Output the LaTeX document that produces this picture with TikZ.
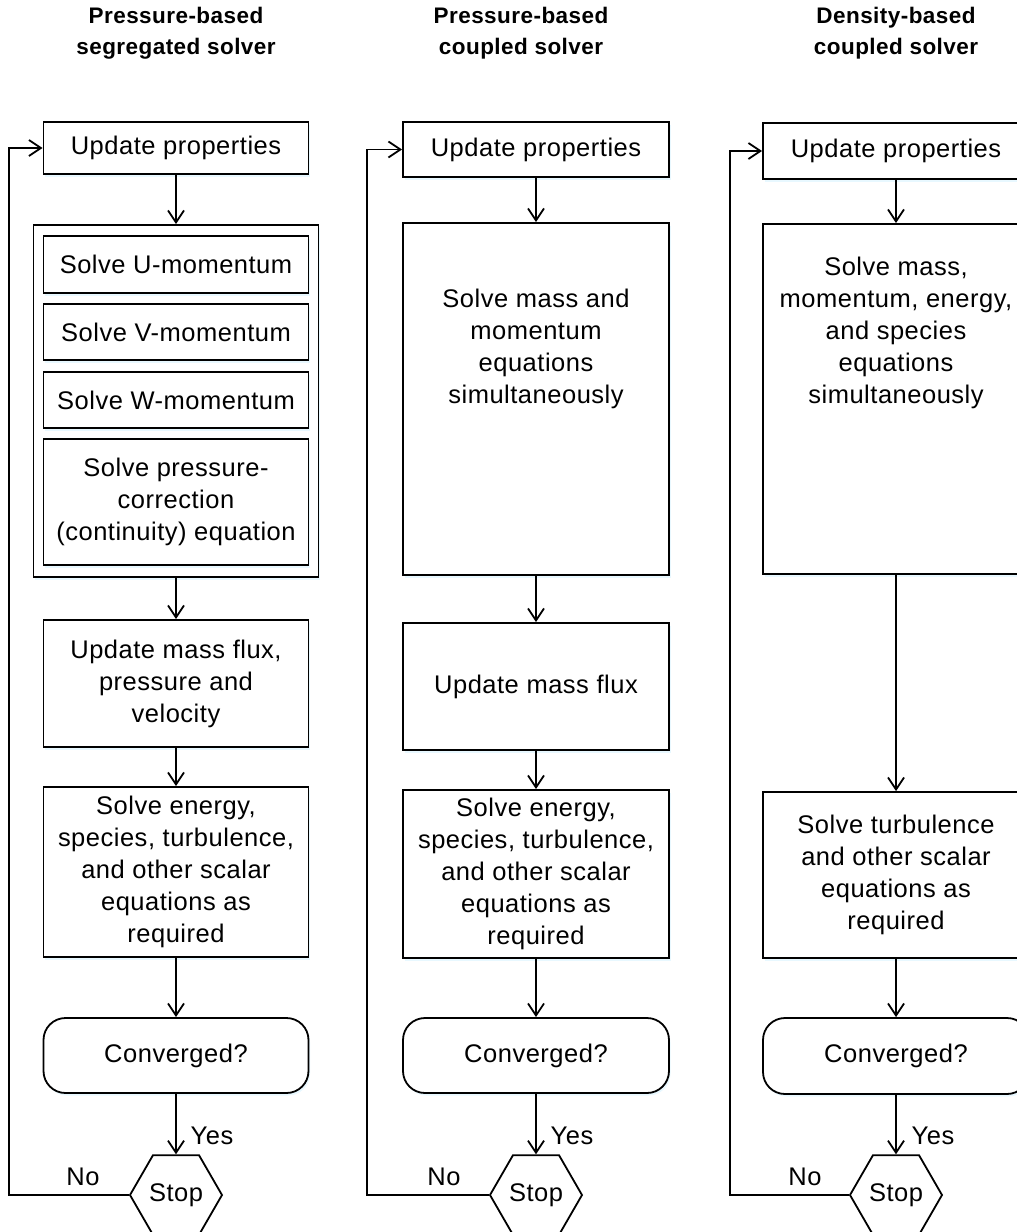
\documentclass[tikz,border=0pt]{standalone}
\usepackage{fontspec}
\setmainfont{Liberation Sans}[LetterSpace=2]
\usetikzlibrary{arrows.meta,shapes.geometric,shadows}
\newcommand\bodyfnt{\fontsize{25.5}{32}\selectfont}
\newcommand\titlefnt{\fontsize{22.5}{31}\selectfont\bfseries}
\begin{document}
\begin{tikzpicture}[x=1pt,y=-1pt,
  sh/.style={drop shadow={shadow xshift=1.5pt,shadow yshift=-2.5pt,fill=blue!30!cyan!20,opacity=0.45}},
  box/.style={draw,line width=1.8pt,fill=white,sh,align=center,inner sep=0pt,font=\bodyfnt,minimum width=266pt},
  rbox/.style={box,rounded corners=22pt},
  txt/.style={align=center,inner sep=0pt,font=\bodyfnt},
  hexa/.style={draw,line width=1.8pt,fill=white,regular polygon,regular polygon sides=6,minimum size=92pt,inner sep=0pt,font=\bodyfnt},
  ttl/.style={align=center,inner sep=0pt,font=\titlefnt},
  lbl/.style={inner sep=0pt,font=\bodyfnt},
  arr/.style={line width=1.8pt,-{Straight Barb[length=12pt,width=16pt]}}]
\useasboundingbox (0,0) rectangle (1017,1232);

% titles
\node[ttl] (t1) at (176,33) {Pressure-based\\segregated solver};
\node[ttl] (t2) at (521,33) {Pressure-based\\coupled solver};
\node[ttl] (t3) at (896,33) {Density-based\\coupled solver};

% ---------- column 1 ----------
\node[box,minimum height=52pt,minimum width=265pt] (up1) at (176,148) {Update properties};
\node[box,minimum height=352pt,minimum width=285pt] (out1) at (176,401) {};
\node[box,minimum height=57pt,minimum width=265pt] (u1) at (176,264.5) {Solve U-momentum};
\node[box,minimum height=56pt,minimum width=265pt] (v1) at (176,332) {Solve V-momentum};
\node[box,minimum height=56pt,minimum width=265pt] (w1) at (176,400) {Solve W-momentum};
\node[box,minimum height=126pt,minimum width=265pt] (p1) at (176,502) {Solve pressure-\\correction\\(continuity) equation};
\node[box,minimum height=127pt,minimum width=265pt] (mf1) at (176,683.5) {Update mass flux,\\pressure and\\velocity};
\node[box,minimum height=170pt,minimum width=265pt] (en1) at (176,872) {Solve energy,\\species, turbulence,\\and other scalar\\equations as\\required};
\node[rbox,minimum height=75pt,minimum width=265pt] (cv1) at (176,1055.5) {Converged?};
\node[hexa] (st1) at (176,1195) {Stop};
\coordinate (lp1) at (9,600);
\node[lbl] (yes1) at (212,1136) {Yes};
\node[lbl] (no1) at (83,1177) {No};

\draw[arr] (up1) -- (out1);
\draw[arr] (out1) -- (mf1);
\draw[arr] (mf1) -- (en1);
\draw[arr] (en1) -- (cv1);
\draw[arr] (cv1) -- (st1);
\draw[arr] (st1.west) -| (lp1) |- (up1.west);

% ---------- column 2 ----------
\node[box,minimum height=55pt] (up2) at (536,149.5) {Update properties};
\node[box,minimum height=352pt] (sm2) at (536,399) {};
\node[txt] (sm2t) at (536,349) {Solve mass and\\momentum\\equations\\simultaneously};
\node[box,minimum height=127pt] (mf2) at (536,686.5) {Update mass flux};
\node[box,minimum height=168pt] (en2) at (536,874) {Solve energy,\\species, turbulence,\\and other scalar\\equations as\\required};
\node[rbox,minimum height=75pt] (cv2) at (536,1055.5) {Converged?};
\node[hexa] (st2) at (536,1195) {Stop};
\coordinate (lp2) at (367,600);
\node[lbl] (yes2) at (572,1136) {Yes};
\node[lbl] (no2) at (444,1177) {No};

\draw[arr] (up2) -- (sm2);
\draw[arr] (sm2) -- (mf2);
\draw[arr] (mf2) -- (en2);
\draw[arr] (en2) -- (cv2);
\draw[arr] (cv2) -- (st2);
\draw[arr] (st2.west) -| (lp2) |- (up2.west);

% ---------- column 3 ----------
\node[box,minimum height=56pt] (up3) at (896,151) {Update properties};
\node[box,minimum height=350pt] (sm3) at (896,399) {};
\node[txt] (sm3t) at (896,333) {Solve mass,\\momentum, energy,\\and species\\equations\\simultaneously};
\node[box,minimum height=166pt] (tb3) at (896,875) {Solve turbulence\\and other scalar\\equations as\\required};
\node[rbox,minimum height=76pt] (cv3) at (896,1056) {Converged?};
\node[hexa] (st3) at (896,1195) {Stop};
\coordinate (lp3) at (730,600);
\node[lbl] (yes3) at (933,1136) {Yes};
\node[lbl] (no3) at (805,1177) {No};

\draw[arr] (up3) -- (sm3);
\draw[arr] (sm3) -- (tb3);
\draw[arr] (tb3) -- (cv3);
\draw[arr] (cv3) -- (st3);
\draw[arr] (st3.west) -| (lp3) |- (up3.west);
\end{tikzpicture}
\end{document}
